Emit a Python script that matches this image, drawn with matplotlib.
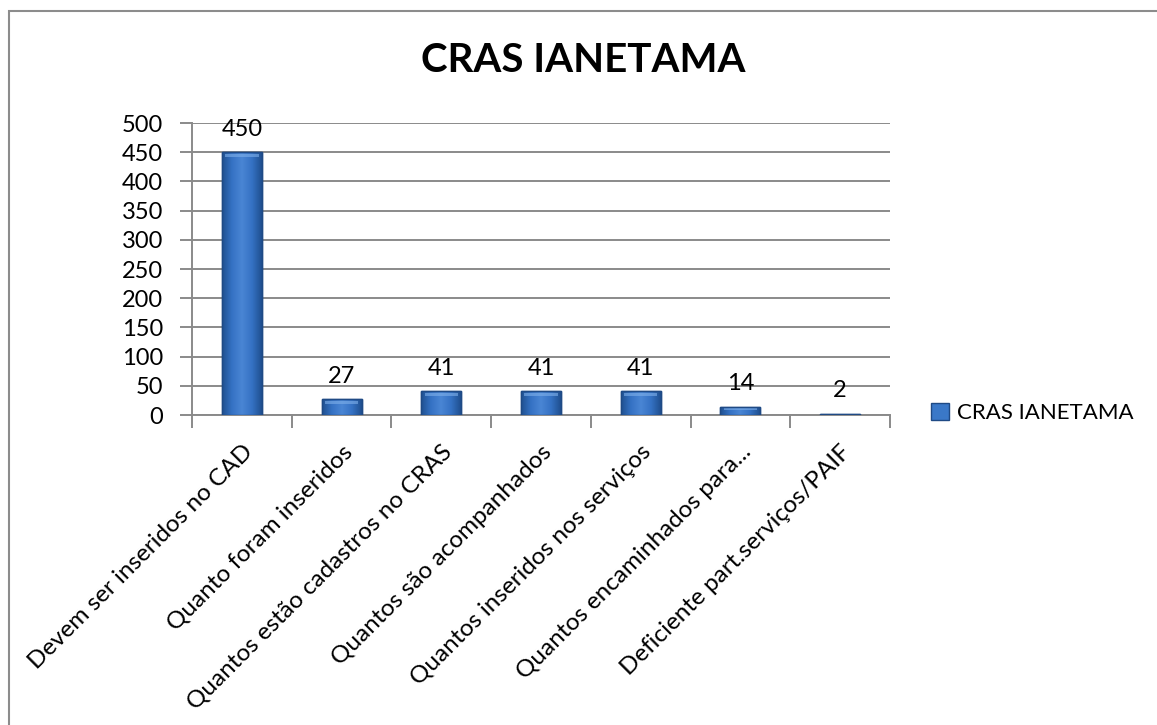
import matplotlib
matplotlib.use("Agg")
import matplotlib.pyplot as plt
import numpy as np
from matplotlib.patches import Rectangle

categories = [
    "Devem ser inseridos no CAD",
    "Quanto foram inseridos",
    "Quantos estão cadastros no CRAS",
    "Quantos são acompanhados",
    "Quantos inseridos nos serviços",
    "Quantos encaminhados para...",
    "Deficiente part.serviços/PAIF",
]
values = [450, 27, 41, 41, 41, 14, 2]
series_name = "CRAS IANETAMA"
title = "CRAS IANETAMA"
yticks = [0, 50, 100, 150, 200, 250, 300, 350, 400, 450, 500]

plt.rcParams['font.family'] = ['Lato', 'DejaVu Sans']

W, H = 1157, 725
fig = plt.figure(figsize=(W / 100, H / 100), dpi=100)
fig.patch.set_facecolor("white")

# outer border (top and left visible, rest cropped)
fig.add_artist(Rectangle((9 / W, -0.05), 1.2, (714 / H) + 0.05, transform=fig.transFigure,
                         fill=False, edgecolor="#8c8c8c", linewidth=1.5))

ax = fig.add_axes([192 / W, 1 - 415 / H, (890 - 192) / W, (415 - 123) / H])
x = np.arange(len(categories))
bars = ax.bar(x, values, width=0.4, color="#3a78c8", edgecolor="#1f4a85", linewidth=1.0, zorder=3,
              label=series_name)

# bevel-like shading inside each bar
grad = np.linspace(0, 1, 256).reshape(1, -1)
cmap = matplotlib.colors.LinearSegmentedColormap.from_list(
    "bev", ["#1f4f8f", "#3572c4", "#4a86d4", "#3572c4", "#1f4f8f"])
for b in bars:
    x0, y0, w, h = b.get_x(), b.get_y(), b.get_width(), b.get_height()
    im = ax.imshow(grad, extent=(x0, x0 + w, y0, y0 + h), aspect="auto", cmap=cmap, zorder=3.5)
    im.set_clip_path(b)
    top = min(h * 0.35, 8)
    ax.add_patch(Rectangle((x0 + w * 0.08, y0 + h - top), w * 0.84, top * 0.6,
                           facecolor="#7fb0ea", edgecolor="none", alpha=0.6, zorder=3.6))
    ax.add_patch(Rectangle((x0, y0), w, h, fill=False, edgecolor="#1f4a85", linewidth=1.0, zorder=3.7))

for xi, v in zip(x, values):
    ax.annotate(str(v), (xi, v), xytext=(0, 9), textcoords="offset points",
                ha="center", va="bottom", fontsize=17, color="black")

ax.set_xlim(-0.5, len(categories) - 0.5)
ax.set_ylim(0, 500)
ax.set_yticks(yticks)
ax.set_yticklabels([str(t) for t in yticks], fontsize=17)
ax.yaxis.grid(True, color="#8a8a8a", linewidth=1.4, zorder=0)
ax.set_axisbelow(True)

ax.set_xticks(np.arange(-0.5, len(categories), 1.0), minor=False)
ax.set_xticklabels([])
ax.set_xticks(x, minor=True)
ax.set_xticklabels(categories, minor=True, rotation=45, ha="right", rotation_mode="anchor",
                   fontsize=17.5)
ax.tick_params(axis="x", which="minor", length=0, pad=19)
ax.tick_params(axis="x", which="major", length=9, width=1.4, color="#8a8a8a", direction="out")
ax.tick_params(axis="y", length=9, width=1.4, color="#8a8a8a", pad=12)

for s in ["top", "right"]:
    ax.spines[s].set_visible(False)
for s in ["left", "bottom"]:
    ax.spines[s].set_color("#8a8a8a")
    ax.spines[s].set_linewidth(1.4)

fig.text(583 / W, 1 - 61 / H, title, ha="center", va="center", fontsize=29, fontweight="bold")

leg = fig.legend(handles=[Rectangle((0, 0), 1, 1, facecolor="#3a78c8", edgecolor="#1f4a85")],
                 labels=[series_name], loc="center left", bbox_to_anchor=(911 / W, 1 - 413 / H),
                 frameon=False, fontsize=16, handlelength=0.8, handleheight=0.8, handletextpad=0.35)

fig.savefig("out.png", dpi=100, facecolor="white")
